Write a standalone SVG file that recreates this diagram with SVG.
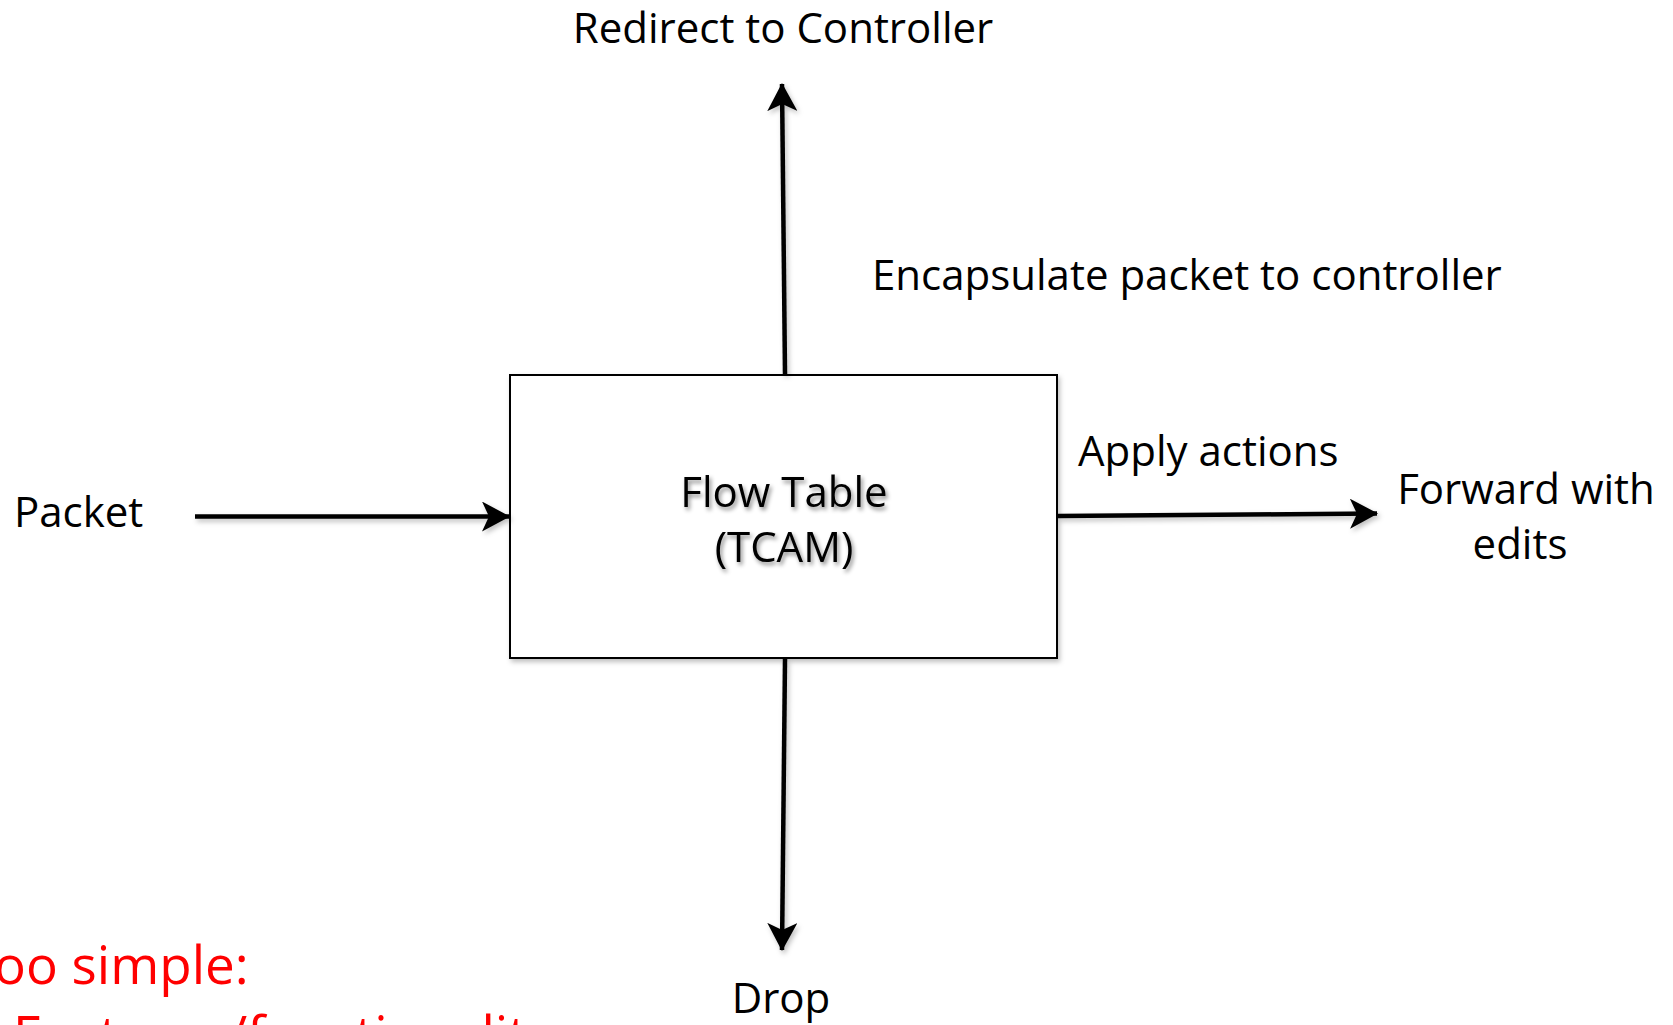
<svg xmlns="http://www.w3.org/2000/svg" width="1673" height="1025" viewBox="0 0 1673 1025">
  <style>
    .lbl { font-family: "Open Sans", "Noto Sans", "Liberation Sans", sans-serif; font-size: 42px; fill: #000; }
    .red { font-family: "Open Sans", "Noto Sans", "Liberation Sans", sans-serif; font-size: 53px; fill: #ff0000; }
    .conn { stroke: #000; stroke-width: 4.5; fill: none; }
    .box { fill: #fff; stroke: #000; stroke-width: 2; }
  </style>
  <defs>
    <filter id="shadow" x="-10%" y="-10%" width="130%" height="130%">
      <feDropShadow dx="2" dy="3" stdDeviation="2.5" flood-color="#000" flood-opacity="0.25"/>
    </filter>
    <filter id="textshadow" x="-10%" y="-20%" width="130%" height="150%">
      <feDropShadow dx="2" dy="3" stdDeviation="2" flood-color="#000" flood-opacity="0.45"/>
    </filter>
    <marker id="arrow" viewBox="0 0 28 30" refX="27" refY="15" markerWidth="28" markerHeight="30" markerUnits="userSpaceOnUse" orient="auto">
      <path d="M0,0 L28,15 L0,30 L7,15 Z" fill="#000"/>
    </marker>
  </defs>

  <g id="flow-table">
    <rect class="box" x="510" y="375" width="547" height="283" filter="url(#shadow)"/>
    <g filter="url(#textshadow)">
      <text class="lbl" x="784" y="507" text-anchor="middle">Flow Table</text>
      <text class="lbl" x="784" y="562" text-anchor="middle">(TCAM)</text>
    </g>
  </g>

  <g id="connectors" filter="url(#shadow)">
    <line class="conn" x1="785" y1="374" x2="782" y2="84" marker-end="url(#arrow)"/>
    <line class="conn" x1="785" y1="659" x2="782" y2="950" marker-end="url(#arrow)"/>
    <line class="conn" x1="195" y1="516.5" x2="509" y2="516.5" marker-end="url(#arrow)"/>
    <line class="conn" x1="1058" y1="516" x2="1377" y2="513.5" marker-end="url(#arrow)"/>
  </g>

  <g id="redirect">
    <text class="lbl" x="783" y="43" text-anchor="middle">Redirect to Controller</text>
  </g>
  <g id="encapsulate">
    <text class="lbl" x="872" y="290">Encapsulate packet to controller</text>
  </g>
  <g id="apply">
    <text class="lbl" x="1078" y="466">Apply actions</text>
  </g>
  <g id="forward">
    <text class="lbl" x="1526" y="504" text-anchor="middle">Forward with</text>
    <text class="lbl" x="1520" y="559" text-anchor="middle">edits</text>
  </g>
  <g id="packet">
    <text class="lbl" x="14" y="527">Packet</text>
  </g>
  <g id="drop">
    <text class="lbl" x="781" y="1013" text-anchor="middle">Drop</text>
  </g>
  <g id="note">
    <text class="red" x="-6" y="984">oo simple:</text>
    <text class="red" x="13" y="1054">Features/functionality</text>
  </g>
</svg>
